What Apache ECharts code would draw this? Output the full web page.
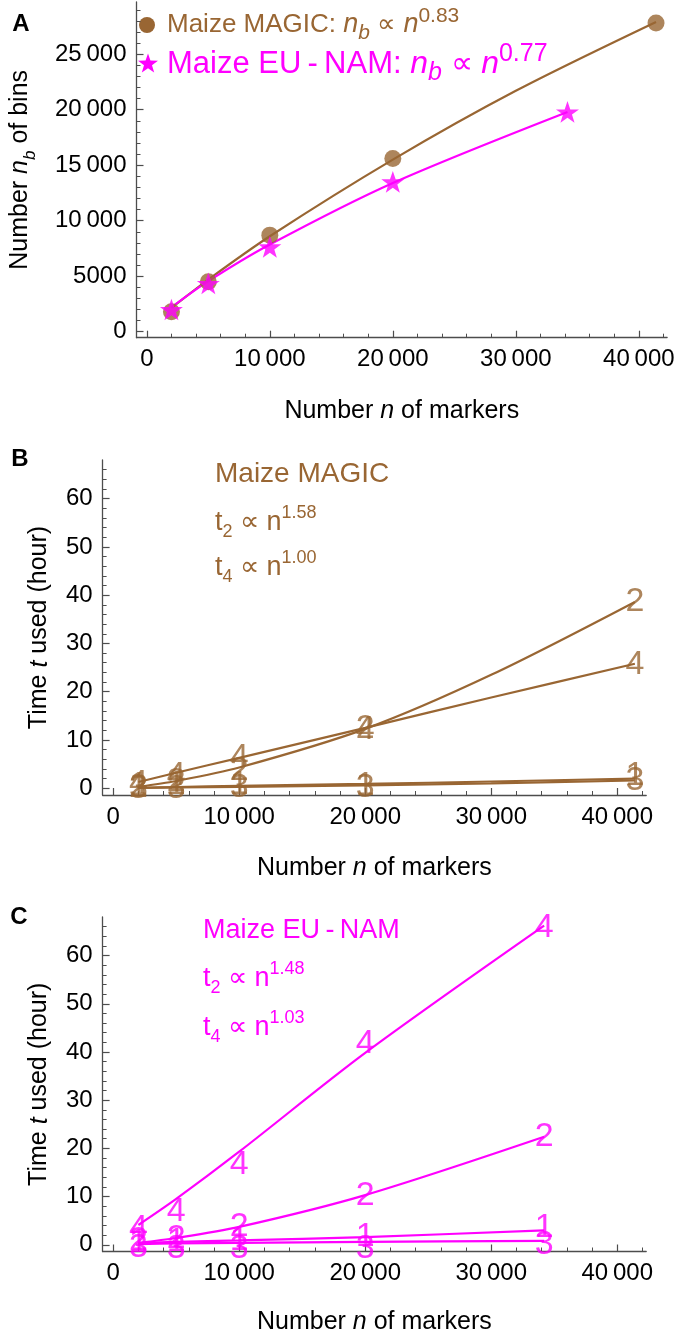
<!DOCTYPE html>
<html><head><meta charset="utf-8">
<script src="https://cdn.jsdelivr.net/npm/echarts@6/dist/echarts.min.js"></script>
<style>html,body{margin:0;padding:0;background:#fff}#c{width:677px;height:1336px}</style>
</head><body><div id="c"></div>
<script>
// ---------- Panel A: number of bins ----------
const nA_magic = [2000, 5000, 10000, 20000, 41400];
const nb_magic = [1800, 4500, 8700, 15600, 27800];
const nA_eu = [2000, 5000, 10000, 20000, 34200];
const nb_eu = [2000, 4350, 7650, 13500, 19800];
// fitted curves
const fitA_magic_n = [2000, 5000, 10000, 20000, 30000, 41400];
const fitA_magic_v = [2150, 4700, 8600, 15500, 21700, 27900];
const fitA_eu_n = [2000, 5000, 10000, 20000, 34200];
const fitA_eu_v = [2200, 4550, 7850, 13400, 19800];

// ---------- Panel B: Maize MAGIC time ----------
const nB = [2000, 5000, 10000, 20000, 41400];
const t1B = [0.6, 0.8, 0.7, 0.6, 2.7];
const t2B = [0.2, 1.4, 3.6, 12.3, 38.6];
const t3B = [0.0, 0.0, 0.1, 0.2, 1.5];
const t4B = [1.0, 2.6, 6.3, 12.2, 25.6];
const nBfit = [2000, 5000, 10000, 20000, 30000, 41400];
const fit1B = [0.1, 0.25, 0.5, 0.9, 1.4, 2.0];
const fit2B = [0.3, 1.5, 4.3, 12.3, 23.5, 38.6];
const fit3B = [0.05, 0.15, 0.3, 0.6, 1.0, 1.6];
const fit4B = [1.3, 3.2, 6.3, 12.5, 18.8, 25.8];

// ---------- Panel C: Maize EU-NAM time ----------
const nC = [2000, 5000, 10000, 20000, 34200];
const t1C = [0.5, 0.6, 0.9, 1.6, 3.5];
const t2C = [0.8, 1.2, 3.8, 10.1, 22.4];
const t3C = [-0.5, -0.8, -0.9, -0.8, 0.0];
const t4C = [3.3, 6.9, 16.6, 41.8, 65.8];
const nCfit = [2000, 5000, 10000, 20000, 34200];
const fit1C = [0.3, 0.6, 0.9, 1.6, 3.0];
const fit2C = [0.4, 1.4, 3.7, 10.3, 22.4];
const fit3C = [0.15, 0.3, 0.4, 0.6, 0.8];
const fit4C = [4.1, 9.5, 19.3, 39.8, 66.2];

// ---------- ticks ----------
const xMajor = [0, 10000, 20000, 30000, 40000];
const xMinor = [0, 2000, 4000, 6000, 8000, 10000, 12000, 14000, 16000, 18000, 20000, 22000, 24000, 26000, 28000, 30000, 32000, 34000, 36000, 38000, 40000, 42000];
const yMajorA = [0, 5000, 10000, 15000, 20000, 25000];
const yMinorA = [0, 1000, 2000, 3000, 4000, 5000, 6000, 7000, 8000, 9000, 10000, 11000, 12000, 13000, 14000, 15000, 16000, 17000, 18000, 19000, 20000, 21000, 22000, 23000, 24000, 25000, 26000, 27000, 28000, 29000];
const yMajorT = [0, 10, 20, 30, 40, 50, 60];
const yMinorT = [0, 2, 4, 6, 8, 10, 12, 14, 16, 18, 20, 22, 24, 26, 28, 30, 32, 34, 36, 38, 40, 42, 44, 46, 48, 50, 52, 54, 56, 58, 60, 62, 64, 66];

const BROWN = '#996633', MAG = '#ff00ff', AX = '#4d4d4d';
const FONT = "'Liberation Sans', Arial, Helvetica, sans-serif";
const STAR = 'path://M50,0 L61.8,35.1 L98.1,35.1 L68.8,56.7 L79.4,90.9 L50,69.9 L20.6,90.9 L31.2,56.7 L1.9,35.1 L38.2,35.1 Z';

const zip = (a, b) => a.map((v, i) => [v, b[i]]);
function fmtTick(v) {
  if (Math.abs(v) >= 10000) { const s = String(v); return s.slice(0, s.length - 3) + '\u2009' + s.slice(-3); }
  return String(v);
}
// base: text size, m: math-letter size, s: sub/sup size, lh: line height
function rich(color, base, lh, s, m) {
  s = s || Math.round(base * 0.68);
  m = m || base;
  const c = {fontFamily: FONT, color: color, fill: color};
  return {
    r: Object.assign({fontSize: base, lineHeight: lh}, c),
    i: Object.assign({fontSize: m, lineHeight: lh, fontStyle: 'italic'}, c),
    sub: Object.assign({fontSize: s, lineHeight: s, verticalAlign: 'bottom'}, c),
    isub: Object.assign({fontSize: s, lineHeight: s, verticalAlign: 'bottom', fontStyle: 'italic'}, c),
    sup: Object.assign({fontSize: s, lineHeight: s, verticalAlign: 'top'}, c)
  };
}
function starPoints(cx, cy, R, r) {
  const pts = [];
  for (let k = 0; k < 10; k++) {
    const a = -Math.PI / 2 + k * Math.PI / 5, rr = k % 2 ? r : R;
    pts.push([cx + rr * Math.cos(a), cy + rr * Math.sin(a)]);
  }
  return pts;
}

const XMIN = -840, XMAX = 42300;
const YA = [-540, 29700], YT = [-1.4, 68];

function xPair(g, nameGap) {
  return [{
    type: 'value', gridIndex: g, min: XMIN, max: XMAX, position: 'bottom',
    axisLine: {show: true, onZero: false, lineStyle: {color: AX, width: 1.3}},
    axisTick: {show: true, inside: true, length: 7, customValues: xMajor, lineStyle: {color: AX, width: 1.2}},
    axisLabel: {show: true, customValues: xMajor, formatter: fmtTick, fontSize: 24, color: '#000', fontFamily: FONT, margin: 10},
    splitLine: {show: false},
    name: '{r|Number }{i|n}{r| of markers}', nameLocation: 'middle', nameGap: nameGap,
    nameTextStyle: {rich: rich('#000', 25, 30)}
  }, {
    type: 'value', gridIndex: g, min: XMIN, max: XMAX, position: 'bottom',
    axisLine: {show: false, onZero: false},
    axisTick: {show: true, inside: true, length: 4, customValues: xMinor, lineStyle: {color: AX, width: 1}},
    axisLabel: {show: false}, splitLine: {show: false}
  }];
}
function yPair(g, ext, major, minor, name, nameGap) {
  return [{
    type: 'value', gridIndex: g, min: ext[0], max: ext[1], position: 'left',
    axisLine: {show: true, onZero: false, lineStyle: {color: AX, width: 1.3}},
    axisTick: {show: true, inside: true, length: 7, customValues: major, lineStyle: {color: AX, width: 1.2}},
    axisLabel: {show: true, customValues: major, formatter: fmtTick, fontSize: 24, color: '#000', fontFamily: FONT, margin: 10},
    splitLine: {show: false},
    name: name, nameLocation: 'middle', nameGap: nameGap, nameRotate: 90,
    nameTextStyle: {rich: rich('#000', 25, 36)}
  }, {
    type: 'value', gridIndex: g, min: ext[0], max: ext[1], position: 'left',
    axisLine: {show: false, onZero: false},
    axisTick: {show: true, inside: true, length: 4, customValues: minor, lineStyle: {color: AX, width: 1}},
    axisLabel: {show: false}, splitLine: {show: false}
  }];
}

function fitLine(ax, n, v, color) {
  return {type: 'line', xAxisIndex: ax, yAxisIndex: ax, data: zip(n, v), smooth: 0.3, showSymbol: false,
    symbol: 'none', lineStyle: {color: color, width: 2.2}, silent: true, z: 3};
}
function digitPts(ax, n, v, digit, color) {
  return {type: 'scatter', xAxisIndex: ax, yAxisIndex: ax, data: zip(n, v), symbolSize: 2,
    itemStyle: {color: 'rgba(0,0,0,0)'}, z: 4,
    label: {show: true, position: 'inside', formatter: digit, fontSize: 34, color: color, fontFamily: FONT}};
}

const option = {
  animation: false,
  backgroundColor: '#fff',
  grid: [
    {left: 125.5, top: 2, width: 543.6, height: 335.7},
    {left: 102.6, top: 460, width: 543.6, height: 335},
    {left: 102.6, top: 917, width: 543.6, height: 334.7}
  ],
  xAxis: [].concat(xPair(0, 58), xPair(1, 58), xPair(2, 56)),
  yAxis: [].concat(
    yPair(0, YA, yMajorA, yMinorA, '{r|Number }{i|n}{isub|b}{r| of bins}', 98),
    yPair(1, YT, yMajorT, yMinorT, '{r|Time }{i|t}{r| used (hour)}', 45),
    yPair(2, YT, yMajorT, yMinorT, '{r|Time }{i|t}{r| used (hour)}', 45)
  ),
  series: [
    fitLine(0, fitA_magic_n, fitA_magic_v, BROWN),
    fitLine(0, fitA_eu_n, fitA_eu_v, MAG),
    {type: 'scatter', xAxisIndex: 0, yAxisIndex: 0, data: zip(nA_magic, nb_magic), symbol: 'circle', symbolSize: 17, itemStyle: {color: BROWN}, z: 4},
    {type: 'scatter', xAxisIndex: 0, yAxisIndex: 0, data: zip(nA_eu, nb_eu), symbol: STAR, symbolKeepAspect: true, symbolSize: 23, itemStyle: {color: MAG}, z: 5},

    fitLine(2, nBfit, fit1B, BROWN), fitLine(2, nBfit, fit2B, BROWN),
    fitLine(2, nBfit, fit3B, BROWN), fitLine(2, nBfit, fit4B, BROWN),
    digitPts(2, nB, t1B, '1', BROWN), digitPts(2, nB, t2B, '2', BROWN),
    digitPts(2, nB, t3B, '3', BROWN), digitPts(2, nB, t4B, '4', BROWN),

    fitLine(4, nCfit, fit1C, MAG), fitLine(4, nCfit, fit2C, MAG),
    fitLine(4, nCfit, fit3C, MAG), fitLine(4, nCfit, fit4C, MAG),
    digitPts(4, nC, t1C, '1', MAG), digitPts(4, nC, t2C, '2', MAG),
    digitPts(4, nC, t3C, '3', MAG), digitPts(4, nC, t4C, '4', MAG)
  ],
  graphic: [
    {type: 'text', x: 21, y: 24, style: {text: 'A', fontFamily: FONT, fontSize: 24, fontWeight: 'bold', fill: '#000', align: 'center', verticalAlign: 'middle'}},
    {type: 'text', x: 20, y: 459, style: {text: 'B', fontFamily: FONT, fontSize: 24, fontWeight: 'bold', fill: '#000', align: 'center', verticalAlign: 'middle'}},
    {type: 'text', x: 19, y: 917, style: {text: 'C', fontFamily: FONT, fontSize: 24, fontWeight: 'bold', fill: '#000', align: 'center', verticalAlign: 'middle'}},
    // legend of panel A
    {type: 'circle', shape: {cx: 147, cy: 25, r: 8}, style: {fill: BROWN}},
    {type: 'polygon', shape: {points: starPoints(148, 64, 10.5, 4.2)}, style: {fill: MAG}},
    {type: 'text', x: 167, y: 24.5, style: {text: '{r|Maize MAGIC: }{i|n}{isub|b}{r| \u221D }{i|n}{sup|0.83}', rich: rich(BROWN, 26, 38, 21, 27), verticalAlign: 'middle', fill: BROWN}},
    {type: 'text', x: 167, y: 64, style: {text: '{r|Maize EU\u2009-\u2009NAM: }{i|n}{isub|b}{r| \u221D }{i|n}{sup|0.77}', rich: rich(MAG, 31, 44, 25, 32), verticalAlign: 'middle', fill: MAG}},
    // panel B annotations
    {type: 'text', x: 215, y: 474, style: {text: 'Maize MAGIC', fontFamily: FONT, fontSize: 28, fill: BROWN, verticalAlign: 'middle'}},
    {type: 'text', x: 215, y: 523, style: {text: '{r|t}{sub|2}{r| \u221D n}{sup|1.58}', rich: rich(BROWN, 27, 37, 18), verticalAlign: 'middle', fill: BROWN}},
    {type: 'text', x: 215, y: 568, style: {text: '{r|t}{sub|4}{r| \u221D n}{sup|1.00}', rich: rich(BROWN, 27, 37, 18), verticalAlign: 'middle', fill: BROWN}},
    // panel C annotations
    {type: 'text', x: 203, y: 931, style: {text: 'Maize EU\u2009-\u2009NAM', fontFamily: FONT, fontSize: 27, fill: MAG, verticalAlign: 'middle'}},
    {type: 'text', x: 203, y: 979, style: {text: '{r|t}{sub|2}{r| \u221D n}{sup|1.48}', rich: rich(MAG, 27, 37, 18), verticalAlign: 'middle', fill: MAG}},
    {type: 'text', x: 203, y: 1028, style: {text: '{r|t}{sub|4}{r| \u221D n}{sup|1.03}', rich: rich(MAG, 27, 37, 18), verticalAlign: 'middle', fill: MAG}}
  ]
};
const chart = echarts.init(document.getElementById('c'), null, {renderer: 'canvas'});
chart.setOption(option);
</script></body></html>
